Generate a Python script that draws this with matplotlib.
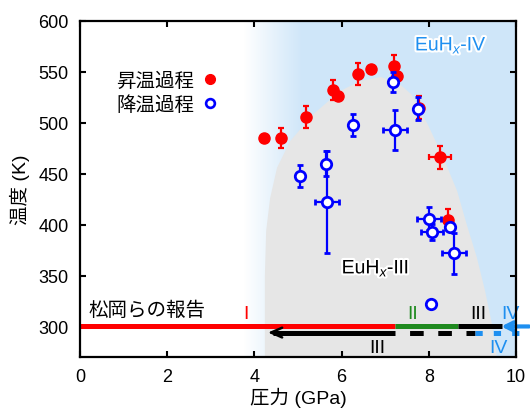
import numpy as np
import matplotlib
matplotlib.use("Agg")
import matplotlib.pyplot as plt
import matplotlib.patheffects as pe
from matplotlib.lines import Line2D

plt.rcParams['font.family'] = ['Liberation Sans', 'Noto Sans CJK JP', 'DejaVu Sans']
plt.rcParams['mathtext.fontset'] = 'custom'
plt.rcParams['mathtext.rm'] = 'Liberation Sans'
plt.rcParams['mathtext.it'] = 'Liberation Sans:italic'
plt.rcParams['lines.scale_dashes'] = False

# ---- data ----
heat_p = [4.22, 4.61, 5.18, 5.80, 5.92, 6.38, 6.67, 7.20, 7.27, 7.78, 8.26, 8.44]
heat_t = [485, 485, 506, 532, 526, 548, 553, 556, 546, 515, 466, 405]
heat_perr = [0, 0, 0, 0, 0, 0, 0, 0, 0, 0, 0.26, 0]
heat_terr = [0, 10, 11, 10, 0, 11, 0, 11, 0, 11, 11, 10]

cool_p = [5.05, 5.64, 5.66, 6.26, 7.18, 7.22, 7.75, 8.00, 8.07, 8.49, 8.58, 8.05]
cool_t = [448, 460, 422, 498, 540, 493, 514, 406, 393, 398, 372, 322]
cool_perr = [0, 0, 0.27, 0, 0, 0.27, 0, 0.27, 0.26, 0, 0.27, 0]
cool_terr = [11, 12, 50, 11, 10, 20, 11, 11, 8, 0, 20, 0]

# phase III dome boundary (pressure, temperature)
dome_p = [4.24, 4.24, 4.27, 4.36, 4.52, 4.82, 5.34, 5.96, 6.42, 6.9, 7.3, 7.6,
          7.98, 8.33, 8.65, 8.87, 9.1, 9.29, 9.45, 9.56]
dome_t = [270, 350, 394, 426, 456, 482, 508, 531, 541, 545, 539, 528,
          498, 466, 433, 400, 368, 335, 302, 270]

# phase boundaries along the reported path (GPa)
path_I_end = 7.22
path_II_end = 8.67
path_III_end = 9.68
cool_head = 4.31
cool_dash_end = 9.06

xticks = [0, 2, 4, 6, 8, 10]
yticks = [300, 350, 400, 450, 500, 550, 600]

RED = '#ff0000'
BLUE = '#0000ff'
GREEN = '#1f8a1f'
LBLUE = '#1e8ff0'

fig = plt.figure(figsize=(5.3, 4.1), dpi=100)
ax = fig.add_axes([80/530, 52/410, 436/530, 336/410])
ax.set_xlim(0, 10)
ax.set_ylim(270, 600)

# background: light-blue region with gradient from the left
xs = np.linspace(0, 10, 500)
alpha = np.clip((xs - 3.75) / (5.1 - 3.75), 0, 1)
img = np.zeros((2, 500, 4))
img[..., 0] = 0.815
img[..., 1] = 0.905
img[..., 2] = 0.98
img[..., 3] = alpha
ax.imshow(img, extent=[0, 10, 270, 600], aspect='auto', zorder=0, interpolation='bilinear')
ax.fill(dome_p, dome_t, color='#e6e6e6', lw=0, zorder=0.5)

# reported path (Matsuoka et al.)
lw = 3.6
ax.plot([0, path_I_end], [300, 300], color=RED, lw=lw, solid_capstyle='butt', zorder=3)
ax.plot([path_I_end, path_II_end], [300, 300], color=GREEN, lw=lw, solid_capstyle='butt', zorder=3)
ax.plot([path_II_end, path_III_end], [300, 300], color='black', lw=lw, solid_capstyle='butt', zorder=3)
ax.annotate('', xy=(path_III_end - 0.02, 300), xytext=(10.3, 300), annotation_clip=False,
            arrowprops=dict(arrowstyle='->,head_length=0.6,head_width=0.3', color=LBLUE, lw=3.0,
                            shrinkA=0, shrinkB=0), zorder=4)
ax.plot([cool_head + 0.12, path_I_end], [294, 294], color='black', lw=lw, solid_capstyle='butt', zorder=3)
ax.annotate('', xy=(cool_head, 294), xytext=(cool_head + 0.6, 294),
            arrowprops=dict(arrowstyle='->,head_length=0.8,head_width=0.35', color='black', lw=1.8,
                            shrinkA=0, shrinkB=0), zorder=3)
ax.plot([path_I_end, cool_dash_end], [294, 294], color='black', lw=lw,
        linestyle=(9.8, (9.8, 10.5)), dash_capstyle='butt', zorder=3)
l = ax.plot([cool_dash_end, 10.3], [294, 294], color=LBLUE, lw=lw,
            linestyle=(0, (5.2, 8.0)), dash_capstyle='butt', zorder=3)
l[0].set_clip_on(False)

fs_lab = 14
ax.text(3.81, 313, 'I', color=RED, fontsize=fs_lab, ha='center', va='center')
ax.text(7.62, 313, 'II', color=GREEN, fontsize=fs_lab, ha='center', va='center')
ax.text(9.13, 313, 'III', color='black', fontsize=fs_lab, ha='center', va='center')
ax.text(9.87, 313, 'IV', color=LBLUE, fontsize=fs_lab, ha='center', va='center')
ax.text(6.81, 279, 'III', color='black', fontsize=fs_lab, ha='center', va='center')
ax.text(9.6, 279, 'IV', color=LBLUE, fontsize=fs_lab, ha='center', va='center')
ax.text(0.19, 316, '松岡らの報告', fontsize=14, ha='left', va='center')

stroke = [pe.withStroke(linewidth=3, foreground='white')]
ax.text(8.51, 576, 'EuH$_{\\mathit{x}}$-IV', color=LBLUE, fontsize=14, ha='center', va='center',
        path_effects=stroke, zorder=5)
ax.text(6.0, 357, 'EuH$_{\\mathit{x}}$-III', color='black', fontsize=14, ha='left', va='center',
        path_effects=stroke, zorder=5)

# data points
ekw = dict(elinewidth=1.6, capsize=2.2, capthick=1.6)
ax.errorbar(np.array(heat_p), np.array(heat_t), xerr=np.array(heat_perr), yerr=np.array(heat_terr),
            fmt='o', color=RED, ms=8, mec=RED, mfc=RED, zorder=6, **ekw)
ax.errorbar(np.array(cool_p), np.array(cool_t), xerr=np.array(cool_perr), yerr=np.array(cool_terr),
            fmt='o', color=BLUE, ms=7.5, mec=BLUE, mfc='white', mew=2.0, zorder=7, **ekw)

handles = [Line2D([], [], ls='', marker='o', color=RED, ms=7),
           Line2D([], [], ls='', marker='o', color=BLUE, mfc='white', mew=1.9, ms=6.3)]
ax.legend(handles, ['昇温過程', '降温過程'], loc='upper left', bbox_to_anchor=(0.083, 0.85),
          frameon=False, markerfirst=False, fontsize=14, handlelength=0.7, handletextpad=0.45,
          labelspacing=0.3, borderpad=0, borderaxespad=0)

ax.set_xticks(xticks)
ax.set_yticks(yticks)
ax.tick_params(direction='in', top=True, right=True, length=4, width=1.5, labelsize=13, pad=8)
for s in ax.spines.values():
    s.set_linewidth(1.6)
    s.set_zorder(10)
ax.set_xlabel('圧力 (GPa)', fontsize=14, labelpad=1.5)
ax.set_ylabel('温度 (K)', fontsize=14, labelpad=6)

fig.savefig('out.png', dpi=100)
